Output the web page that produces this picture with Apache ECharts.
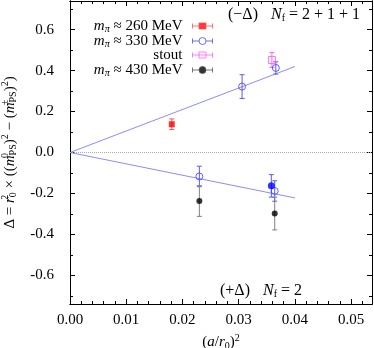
<!DOCTYPE html>
<html>
<head>
<meta charset="utf-8">
<script src="https://cdn.jsdelivr.net/npm/echarts@6/dist/echarts.min.js"></script>
<style>
  html, body { margin: 0; padding: 0; background: #fff; }
  #chart { width: 374px; height: 348px; }
</style>
</head>
<body>
<div id="chart"></div>
<script>
// axis ranges and ticks
const X_MIN = 0, X_MAX = 0.0537
const Y_MIN = -0.74, Y_MAX = 0.74
const xTicks = [0, 0.01, 0.02, 0.03, 0.04, 0.05]
const xMinorTicks = [0.002, 0.004, 0.006, 0.008, 0.012, 0.014, 0.016, 0.018, 0.022, 0.024, 0.026, 0.028,
  0.032, 0.034, 0.036, 0.038, 0.042, 0.044, 0.046, 0.048, 0.052]
const yTicks = [-0.6, -0.4, -0.2, 0, 0.2, 0.4, 0.6]
const yMinorTicks = [-0.7, -0.5, -0.3, -0.1, 0.1, 0.3, 0.5, 0.7]

// data: (a/r0)^2, Delta, error
const x260 = [0.0181]
const y260 = [0.138]
const e260 = [0.026]

const x330 = [0.0306, 0.0366, 0.0230, 0.0364]
const y330 = [0.322, 0.413, -0.117, -0.188]
const e330 = [0.058, 0.030, 0.050, 0.050]

const xStout = [0.0359]
const yStout = [0.452]
const eStout = [0.037]

const x430 = [0.0230, 0.0364]
const y430 = [-0.237, -0.298]
const e430 = [0.075, 0.080]

const xNf2 = [0.0358]
const yNf2 = [-0.163]
const eNf2 = [0.055]

// linear fits through origin
const fitX = [0, 0.040]
const fitUp = [0, 0.42]
const fitDown = [0, -0.222]

const FONT = 'Liberation Serif'
const rich = {
  it: { fontFamily: FONT, fontStyle: 'italic', fontSize: 15, lineHeight: 18 },
  itL: { fontFamily: FONT, fontStyle: 'italic', fontSize: 16, lineHeight: 18 },
  sub: { fontFamily: FONT, fontSize: 10, lineHeight: 18, padding: [7, 0, 0, 0] },
  subit: { fontFamily: FONT, fontStyle: 'italic', fontSize: 10, lineHeight: 18, padding: [7, 0, 0, 0] },
  sup: { fontFamily: FONT, fontSize: 10, lineHeight: 18, padding: [0, 0, 9, 0] },
  supz: { fontFamily: FONT, fontSize: 10, lineHeight: 18, padding: [0, 0, 9, 0], width: 0 },
  gap: { width: 13, lineHeight: 18 }
}

const legendText = {
  m260: '{it|m}{subit|π} ≈ 260 MeV',
  m330: '{it|m}{subit|π} ≈ 330 MeV',
  stout: 'stout',
  m430: '{it|m}{subit|π} ≈ 430 MeV'
}

const chart = echarts.init(document.getElementById('chart'))

function errSeries(name, xs, ys, es, color) {
  return {
    type: 'custom',
    name: name,
    silent: true,
    z: 2,
    data: xs.map((x, i) => [x, ys[i], es[i]]),
    encode: { x: 0, y: 1 },
    renderItem(params, api) {
      const x = api.value(0), y = api.value(1), e = api.value(2)
      const top = api.coord([x, y + e])
      const bot = api.coord([x, y - e])
      const c = 2.5
      const st = { stroke: color, lineWidth: 1 }
      return {
        type: 'group',
        children: [
          { type: 'line', shape: { x1: top[0], y1: top[1], x2: bot[0], y2: bot[1] }, style: st },
          { type: 'line', shape: { x1: top[0] - c, y1: top[1], x2: top[0] + c, y2: top[1] }, style: st },
          { type: 'line', shape: { x1: bot[0] - c, y1: bot[1], x2: bot[0] + c, y2: bot[1] }, style: st }
        ]
      }
    }
  }
}

function pointSeries(name, xs, ys, symbol, size, itemStyle) {
  return {
    type: 'scatter',
    name: name,
    z: 3,
    symbol: symbol,
    symbolSize: size,
    itemStyle: itemStyle,
    data: xs.map((x, i) => [x, ys[i]])
  }
}

const sqIcon = 'path://M0,3.5H20M0,1V6M20,1V6M6.5,0.5H13.5V6.5H6.5Z'
const ciIcon = 'path://M0,3.5H6.5M13.5,3.5H20M0,1V6M20,1V6M6.5,3.5A3.5,3.5,0,1,0,13.5,3.5A3.5,3.5,0,1,0,6.5,3.5Z'

function legendAt(name, top, icon, style) {
  return {
    data: [{ name: name, icon: icon, itemStyle: style }],
    right: 161,
    top: top,
    orient: 'vertical',
    align: 'right',
    itemWidth: 20,
    itemHeight: 7,
    padding: 0,
    selectedMode: false,
    formatter: n => legendText[n],
    textStyle: { fontFamily: FONT, fontSize: 15, color: '#000', lineHeight: 18, padding: [0, 5, 0, 0], rich: rich }
  }
}

const tickAxisX = (pos, vals, len, labels) => ({
  type: 'value', gridIndex: 0, position: pos, min: X_MIN, max: X_MAX,
  axisLine: { show: true, onZero: false, lineStyle: { color: '#000', width: 1 } },
  axisTick: { show: true, inside: true, length: len, customValues: vals, lineStyle: { color: '#000' } },
  axisLabel: labels
    ? { show: true, customValues: vals, margin: 9, formatter: v => v.toFixed(2), fontFamily: FONT, fontSize: 15, color: '#000' }
    : { show: false },
  splitLine: { show: false }
})

const tickAxisY = (pos, vals, len, labels) => ({
  type: 'value', gridIndex: 0, position: pos, min: Y_MIN, max: Y_MAX,
  axisLine: { show: true, onZero: false, lineStyle: { color: '#000', width: 1 } },
  axisTick: { show: true, inside: true, length: len, customValues: vals, lineStyle: { color: '#000' } },
  axisLabel: labels
    ? { show: true, customValues: vals, margin: 16, formatter: v => v.toFixed(1), fontFamily: FONT, fontSize: 15, color: '#000' }
    : { show: false },
  splitLine: { show: false }
})

const xMain = tickAxisX('bottom', xTicks, 5, true)
xMain.name = '({it|a}/{it|r}{sub|0}){sup|2}'
xMain.nameLocation = 'middle'
xMain.nameGap = 26
xMain.nameTextStyle = { fontFamily: FONT, fontSize: 15, color: '#000', lineHeight: 18, rich: rich }

const yMain = tickAxisY('left', yTicks, 5, true)
yMain.name = 'Δ = {it|r}{supz|2}{sub|0} × (({it|m}{supz|0}{sub|PS}){sup|2} − ({it|m}{supz|±}{sub|PS}){sup|2})'
yMain.nameLocation = 'middle'
yMain.nameRotate = 90
yMain.nameGap = 50
yMain.nameTextStyle = { fontFamily: FONT, fontSize: 15, color: '#000', lineHeight: 18, rich: rich }

const annoFont = '16px "Liberation Serif"'

const option = {
  backgroundColor: '#fff',
  animation: false,
  grid: { left: 70, right: 2, top: 1, bottom: 44, containLabel: false, outerBoundsMode: 'none' },
  xAxis: [
    xMain,
    tickAxisX('top', xTicks, 5, false),
    tickAxisX('bottom', xMinorTicks, 3, false),
    tickAxisX('top', xMinorTicks, 3, false)
  ],
  yAxis: [
    yMain,
    tickAxisY('right', yTicks, 5, false),
    tickAxisY('left', yMinorTicks, 3, false),
    tickAxisY('right', yMinorTicks, 3, false)
  ],
  legend: [
    legendAt('m260', 17, sqIcon, { color: '#ff0000', borderColor: '#ff5050', borderWidth: 1 }),
    legendAt('m330', 32, ciIcon, { color: 'rgba(0,0,0,0)', borderColor: '#4a4aff', borderWidth: 1 }),
    legendAt('stout', 46, sqIcon, { color: 'rgba(0,0,0,0)', borderColor: '#ff60ff', borderWidth: 1 }),
    legendAt('m430', 61, ciIcon, { color: '#000000', borderColor: '#555555', borderWidth: 1 })
  ],
  graphic: [
    {
      type: 'text', x: 228, y: 15, z: 10,
      style: {
        text: '(−Δ){gap| }{itL|N}{sub|f} = 2 + 1 + 1',
        font: annoFont, fill: '#000', lineHeight: 18, verticalAlign: 'middle', rich: rich
      }
    },
    {
      type: 'text', x: 220, y: 291, z: 10,
      style: {
        text: '(+Δ){gap| }{itL|N}{sub|f} = 2',
        font: annoFont, fill: '#000', lineHeight: 18, verticalAlign: 'middle', rich: rich
      }
    }
  ],
  series: [
    {
      type: 'line', name: 'fitUp', silent: true, showSymbol: false, z: 1,
      lineStyle: { color: '#8c8cff', width: 1 },
      data: fitX.map((x, i) => [x, fitUp[i]]),
      markLine: {
        silent: true, symbol: 'none', label: { show: false },
        lineStyle: { color: '#aaaaaa', type: 'dotted', width: 1 },
        data: [{ yAxis: 0 }]
      }
    },
    {
      type: 'line', name: 'fitDown', silent: true, showSymbol: false, z: 1,
      lineStyle: { color: '#8c8cff', width: 1 },
      data: fitX.map((x, i) => [x, fitDown[i]])
    },
    errSeries('m260 err', x260, y260, e260, '#ff5050'),
    errSeries('m330 err', x330, y330, e330, '#5a5aff'),
    errSeries('stout err', xStout, yStout, eStout, '#ff60ff'),
    errSeries('m430 err', x430, y430, e430, '#808080'),
    errSeries('nf2 err', xNf2, yNf2, eNf2, '#5a5aff'),
    pointSeries('m260', x260, y260, 'rect', 6, { color: '#ff0000' }),
    pointSeries('m330', x330, y330, 'circle', 7, { color: 'rgba(0,0,0,0)', borderColor: '#3c3cff', borderWidth: 1 }),
    pointSeries('stout', xStout, yStout, 'rect', 7, { color: 'rgba(0,0,0,0)', borderColor: '#ff50ff', borderWidth: 1 }),
    pointSeries('m430', x430, y430, 'circle', 6, { color: '#000000' }),
    pointSeries('nf2', xNf2, yNf2, 'circle', 7, { color: '#0000ff' })
  ]
}

chart.setOption(option)
window.addEventListener('resize', () => chart.resize())
</script>
</body>
</html>
